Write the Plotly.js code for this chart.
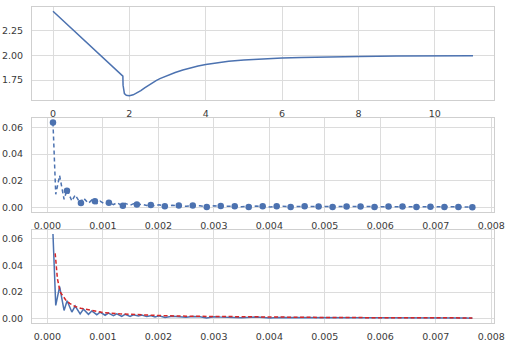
<!DOCTYPE html>
<html><head><meta charset="utf-8">
<script src="https://cdn.plot.ly/plotly-3.0.1.min.js"></script>
<style>html,body{margin:0;padding:0;background:#fff;}#chart{width:510px;height:357px;}</style>
</head><body><div id="chart"></div>
<script>
// Panel 1
const topX = [0, 1.83, 1.835, 1.845, 1.87, 1.92, 2.0, 2.1, 2.2, 2.3, 2.4, 2.5, 2.6, 2.7, 2.8, 2.9, 3.0, 3.2, 3.4, 3.6, 3.8, 4.0, 4.3, 4.6, 5.0, 5.5, 6.0, 6.5, 7, 8, 9, 10, 11];
const topY = [2.44, 1.79, 1.70, 1.645, 1.615, 1.598, 1.594, 1.603, 1.622, 1.645, 1.673, 1.700, 1.724, 1.746, 1.765, 1.782, 1.798, 1.827, 1.852, 1.873, 1.891, 1.906, 1.925, 1.939, 1.952, 1.963, 1.971, 1.977, 1.982, 1.988, 1.992, 1.994, 1.995];

// Blue spectrum line (panels 2 & 3)
const specX = [0.0001, 0.00015, 0.00022, 0.0003, 0.000355, 0.00044, 0.0005, 0.00059, 0.00065, 0.00074, 0.0008, 0.00089, 0.00095, 0.00104, 0.0011, 0.00119, 0.00125, 0.00134, 0.0014, 0.00149, 0.00155, 0.00164, 0.0017, 0.00179, 0.00186, 0.00194, 0.00201,
  0.00212, 0.00225, 0.00238, 0.0025, 0.00262, 0.00275, 0.00287, 0.003, 0.00312, 0.00325, 0.00338, 0.0035, 0.00363, 0.00376, 0.00389, 0.00401, 0.00414, 0.00426, 0.00439, 0.00452, 0.00464, 0.00477, 0.00489, 0.00502, 0.00514, 0.00527, 0.0054, 0.00552, 0.00565, 0.00578, 0.0059, 0.00603, 0.00615, 0.00628, 0.0064, 0.00653, 0.00666, 0.00678, 0.00691, 0.00704, 0.00717, 0.00729, 0.00742, 0.00754, 0.00766];
const specY = [0.0635, 0.0100, 0.0240, 0.0062, 0.0135, 0.0050, 0.0095, 0.0036, 0.0072, 0.0033, 0.0058, 0.0030, 0.0049, 0.0026, 0.0042, 0.0023, 0.0037, 0.0017, 0.0033, 0.0018, 0.0030, 0.0020, 0.0027, 0.0016, 0.0023, 0.0013, 0.0022,
  0.0010, 0.0018, 0.0016, 0.0011, 0.0016, 0.0014, 0.0006, 0.0014, 0.0012, 0.0013, 0.0010, 0.0007, 0.0010, 0.0012, 0.0010, 0.0006, 0.0010, 0.0010, 0.0006, 0.0009, 0.0010, 0.0008, 0.0008, 0.0008, 0.0005, 0.0008, 0.0009, 0.0007, 0.0009, 0.0008, 0.0005, 0.0008, 0.0009, 0.0007, 0.0009, 0.0007, 0.0005, 0.0007, 0.0008, 0.0006, 0.0005, 0.0007, 0.0005, 0.0006, 0.0003];

// Markers on panel 2 line
const markX = [0.0001, 0.000352, 0.000604, 0.000856, 0.001108, 0.00136, 0.001612, 0.001864, 0.002116, 0.002368, 0.00262, 0.002872, 0.003124, 0.003376, 0.003628, 0.00388, 0.004132, 0.004384, 0.004636, 0.004888, 0.00514, 0.005392, 0.005644, 0.005896, 0.006148, 0.0064, 0.006652, 0.006904, 0.007156, 0.007408, 0.00766];
const markY = [0.0635, 0.0127, 0.0035, 0.0048, 0.0037, 0.0015, 0.0024, 0.0021, 0.0010, 0.0016, 0.0016, 0.0006, 0.0012, 0.0010, 0.0006, 0.0010, 0.0010, 0.0006, 0.0010, 0.0009, 0.0005, 0.0009, 0.0009, 0.0005, 0.0009, 0.0009, 0.0005, 0.0008, 0.0005, 0.0005, 0.0003];

// Red envelope (panel 3)
const envX = [0.00014, 0.00018, 0.00023, 0.00028, 0.00033, 0.0004, 0.0005, 0.0006, 0.0008, 0.001, 0.0013, 0.0016, 0.002, 0.0025, 0.003, 0.0035, 0.004, 0.005, 0.006, 0.007, 0.00766];
const envY = [0.049, 0.030, 0.020, 0.0165, 0.014, 0.0115, 0.0092, 0.0078, 0.0060, 0.0047, 0.0037, 0.0030, 0.0024, 0.0019, 0.0016, 0.0014, 0.0012, 0.00094, 0.00078, 0.00067, 0.00061];

const BLUE = '#4c72b0', RED = '#d62728';
const traces = [
  {x: topX, y: topY, xaxis: 'x', yaxis: 'y', mode: 'lines', line: {color: BLUE, width: 1.5}},
  {x: specX, y: specY, xaxis: 'x2', yaxis: 'y2', mode: 'lines', line: {color: BLUE, width: 1.5, dash: '4px,3px'}},
  {x: markX, y: markY, xaxis: 'x2', yaxis: 'y2', mode: 'markers', marker: {color: BLUE, size: 6.5}},
  {x: specX, y: specY, xaxis: 'x3', yaxis: 'y3', mode: 'lines', line: {color: BLUE, width: 1.5}},
  {x: envX, y: envY, xaxis: 'x3', yaxis: 'y3', mode: 'lines', line: {color: RED, width: 1.5, dash: '4px,2.5px'}}
];
const grid = '#dcdcdc', frame = '#cfcfcf';
function ax(extra) {
  return Object.assign({showgrid: true, gridcolor: grid, gridwidth: 1, zeroline: false,
    showline: true, linecolor: frame, linewidth: 1, mirror: true, ticks: '',
    tickfont: {family: 'DejaVu Sans', size: 9.5, color: '#3a3a3a'}}, extra);
}
const layout = {
  width: 510, height: 357, showlegend: false,
  paper_bgcolor: '#fff', plot_bgcolor: '#fff',
  margin: {l: 32, r: 16, t: 7, b: 34},
  xaxis: ax({domain: [0, 1], anchor: 'y', range: [-0.55, 11.55], tickvals: [0, 2, 4, 6, 8, 10], ticktext: ['0','2','4','6','8','10'], ticklabelstandoff: 5}),
  yaxis: ax({domain: [0.7057, 1], anchor: 'x', range: [1.551, 2.483], tickvals: [1.75, 2.0, 2.25], tickformat: '.2f', ticklabelstandoff: 6}),
  xaxis2: ax({domain: [0, 1], anchor: 'y2', range: [-0.000278, 0.00805], dtick: 0.001, tick0: 0, tickformat: '.3f', ticklabelstandoff: 5}),
  yaxis2: ax({domain: [0.3513, 0.6478], anchor: 'x2', range: [-0.0032, 0.0667], dtick: 0.02, tick0: 0, tickformat: '.2f', ticklabelstandoff: 6}),
  xaxis3: ax({domain: [0, 1], anchor: 'y3', range: [-0.000278, 0.00805], dtick: 0.001, tick0: 0, tickformat: '.3f', ticklabelstandoff: 5}),
  yaxis3: ax({domain: [0, 0.2953], anchor: 'x3', range: [-0.0032, 0.0667], dtick: 0.02, tick0: 0, tickformat: '.2f', ticklabelstandoff: 6})
};
Plotly.newPlot('chart', traces, layout, {displayModeBar: false, staticPlot: true});
</script>
</body></html>
